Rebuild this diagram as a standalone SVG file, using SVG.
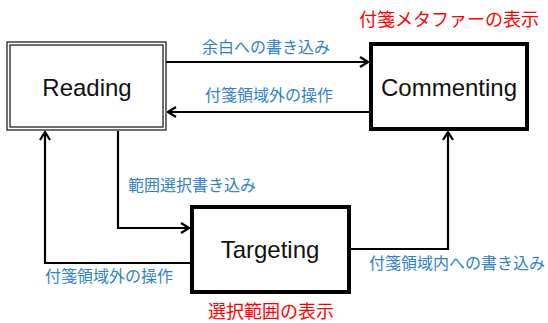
<svg xmlns="http://www.w3.org/2000/svg" width="548" height="323" viewBox="0 0 548 323">
<style>
.box{fill:#fff;stroke:#000;stroke-width:4}
.dbl{fill:none;stroke:#222;stroke-width:1.3}
.node{font-family:"Liberation Sans",Arial,sans-serif;font-size:24px;fill:#111;text-anchor:middle}
.lbl{font-family:"Noto Sans CJK JP",sans-serif;font-size:16px;fill:#2F82C8}
.red{font-family:"Noto Sans CJK JP",sans-serif;font-size:18px;fill:#FF0000;text-anchor:middle}
.edge{fill:none;stroke:#000;stroke-width:2.2}
</style>
<defs>
<marker id="arr" viewBox="0 0 10 12" refX="9" refY="6" markerWidth="10" markerHeight="12" markerUnits="userSpaceOnUse" orient="auto">
<path d="M1,1 L9,6 L1,11" fill="none" stroke="#000" stroke-width="2.2"/>
</marker>
</defs>
<rect width="548" height="323" fill="#fff"/>
<g id="connectors">
<path class="edge" d="M166,62 H368" marker-end="url(#arr)"/>
<path class="edge" d="M369,112 H168" marker-end="url(#arr)"/>
<path class="edge" d="M118,131 V228 H189" marker-end="url(#arr)"/>
<path class="edge" d="M190,263 H45 V132" marker-end="url(#arr)"/>
<path class="edge" d="M351,249 H448 V132" marker-end="url(#arr)"/>
</g>
<g id="reading">
<rect x="7" y="42" width="159" height="88" fill="#fff"/>
<rect class="dbl" x="7" y="42" width="159" height="88"/>
<rect class="dbl" x="10" y="45" width="153" height="82"/>
<text class="node" x="87" y="96">Reading</text>
</g>
<g id="commenting">
<rect class="box" x="371" y="44" width="156" height="85"/>
<text class="node" x="449" y="96">Commenting</text>
</g>
<g id="targeting">
<rect class="box" x="192" y="207" width="157" height="85"/>
<text class="node" x="270" y="258">Targeting</text>
</g>
<g id="labels">
<text class="red" x="449" y="26">付箋メタファーの表示</text>
<text class="red" x="271" y="318">選択範囲の表示</text>
<text class="lbl" x="202" y="53">余白への書き込み</text>
<text class="lbl" x="205" y="101">付箋領域外の操作</text>
<text class="lbl" x="128" y="191">範囲選択書き込み</text>
<text class="lbl" x="45" y="282">付箋領域外の操作</text>
<text class="lbl" x="369" y="269">付箋領域内への書き込み</text>
</g>
</svg>
